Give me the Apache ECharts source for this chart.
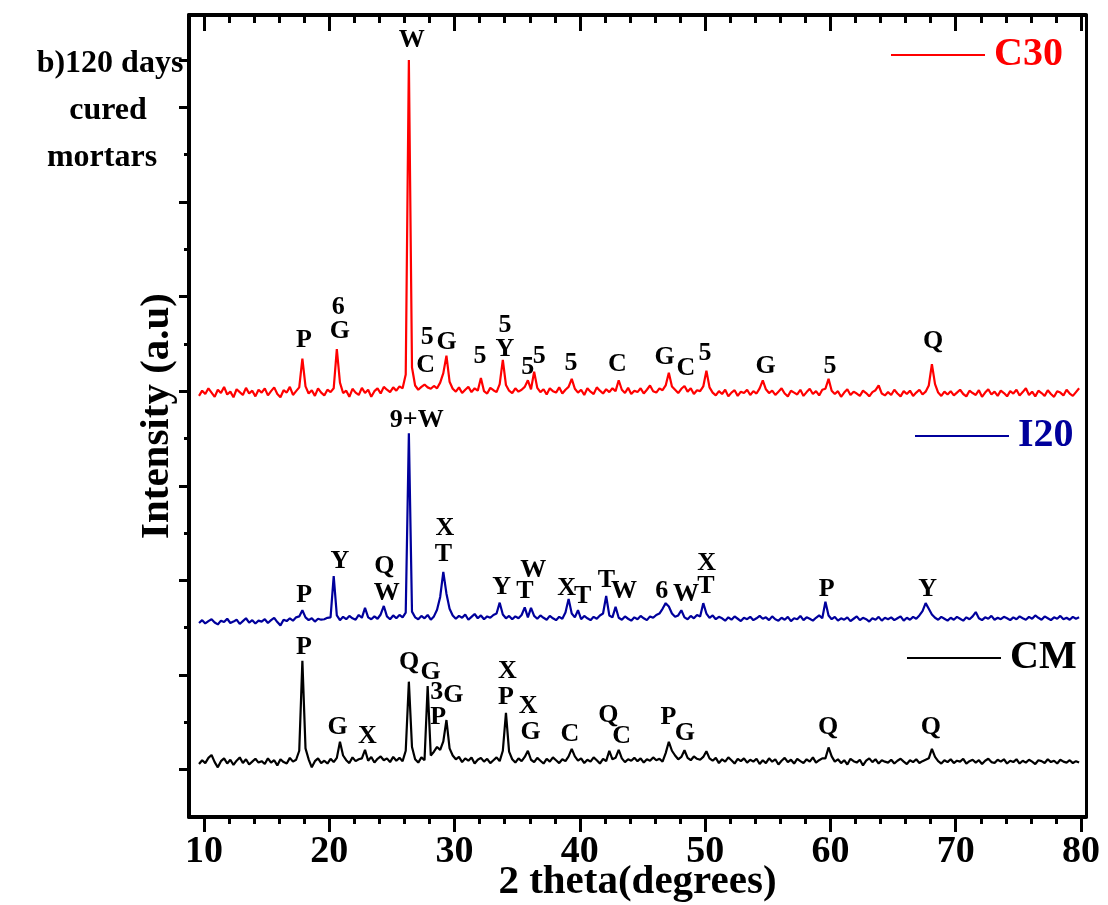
<!DOCTYPE html>
<html><head><meta charset="utf-8">
<script src="https://cdn.jsdelivr.net/npm/echarts@6/dist/echarts.min.js"></script>
<style>html,body{margin:0;padding:0;background:#fff}#c{width:1108px;height:905px}</style>
</head><body><div id="c"></div>
<script>
// 2-theta sampling positions (degrees)
const twoTheta = [
9.6,9.85,10.1,10.35,10.6,10.85,11.1,11.35,11.6,11.85,12.1,12.35,12.6,12.85,13.1,13.35,13.6,13.85,14.1,14.35,
14.6,14.85,15.1,15.35,15.6,15.85,16.1,16.35,16.6,16.85,17.1,17.35,17.6,17.85,18.1,18.35,18.6,18.85,19.1,19.35,
19.6,19.85,20.1,20.35,20.6,20.85,21.1,21.35,21.6,21.85,22.1,22.35,22.6,22.85,23.1,23.35,23.6,23.85,24.1,24.35,
24.6,24.85,25.1,25.35,25.6,25.85,26.1,26.35,26.6,26.85,27.1,27.35,27.6,27.85,28.1,28.35,28.6,28.85,29.1,29.35,
29.6,29.85,30.1,30.35,30.6,30.85,31.1,31.35,31.6,31.85,32.1,32.35,32.6,32.85,33.1,33.35,33.6,33.85,34.1,34.35,
34.6,34.85,35.1,35.35,35.6,35.85,36.1,36.35,36.6,36.85,37.1,37.35,37.6,37.85,38.1,38.35,38.6,38.85,39.1,39.35,
39.6,39.85,40.1,40.35,40.6,40.85,41.1,41.35,41.6,41.85,42.1,42.35,42.6,42.85,43.1,43.35,43.6,43.85,44.1,44.35,
44.6,44.85,45.1,45.35,45.6,45.85,46.1,46.35,46.6,46.85,47.1,47.35,47.6,47.85,48.1,48.35,48.6,48.85,49.1,49.35,
49.6,49.85,50.1,50.35,50.6,50.85,51.1,51.35,51.6,51.85,52.1,52.35,52.6,52.85,53.1,53.35,53.6,53.85,54.1,54.35,
54.6,54.85,55.1,55.35,55.6,55.85,56.1,56.35,56.6,56.85,57.1,57.35,57.6,57.85,58.1,58.35,58.6,58.85,59.1,59.35,
59.6,59.85,60.1,60.35,60.6,60.85,61.1,61.35,61.6,61.85,62.1,62.35,62.6,62.85,63.1,63.35,63.6,63.85,64.1,64.35,
64.6,64.85,65.1,65.35,65.6,65.85,66.1,66.35,66.6,66.85,67.1,67.35,67.6,67.85,68.1,68.35,68.6,68.85,69.1,69.35,
69.6,69.85,70.1,70.35,70.6,70.85,71.1,71.35,71.6,71.85,72.1,72.35,72.6,72.85,73.1,73.35,73.6,73.85,74.1,74.35,
74.6,74.85,75.1,75.35,75.6,75.85,76.1,76.35,76.6,76.85,77.1,77.35,77.6,77.85,78.1,78.35,78.6,78.85,79.1,79.35,
79.6,79.85];

// Stacked intensities (a.u.)
const c30 = [
790,801,794,806,797,788,803,796,809,793,799,787,804,798,792,807,795,801,789,803,
797,806,791,800,808,794,787,802,797,809,792,800,808,869,810,795,802,790,806,797,
791,803,798,806,889,818,796,801,788,805,797,792,807,796,803,788,800,806,795,809,
803,798,808,801,810,806,835,1500,850,812,803,809,814,808,805,811,806,818,838,875,
820,805,799,808,796,803,809,798,806,801,828,800,795,807,802,798,815,866,813,801,
796,806,799,803,809,823,804,841,807,798,804,793,806,800,797,808,795,803,809,826,
805,797,803,792,806,799,794,808,801,795,804,798,806,800,823,803,796,807,794,801,
798,806,795,803,812,800,797,806,802,812,839,810,803,796,805,811,799,806,794,802,
800,810,843,808,797,791,800,794,803,789,797,802,790,799,796,803,792,800,795,806,
823,804,796,801,792,799,806,795,789,801,797,793,803,790,798,805,794,800,791,803,
805,826,801,794,800,788,797,804,792,799,795,790,801,796,789,798,802,812,795,791,
798,792,803,795,789,800,794,801,790,797,803,793,799,812,857,815,797,790,799,793,
800,791,797,803,794,789,801,796,792,802,788,797,804,793,799,790,801,796,789,800,
795,803,791,798,806,792,799,789,801,796,790,802,794,788,800,797,791,803,795,790,
798,806];

const i20 = [
310,316,309,314,318,311,307,315,312,319,310,313,317,308,314,320,311,316,309,315,
313,318,310,316,321,312,305,317,314,320,315,322,324,337,322,316,320,313,319,317,
318,321,322,409,326,316,323,318,325,320,317,327,321,342,322,318,324,319,328,346,
324,318,326,320,327,322,332,711,334,322,318,325,320,327,317,324,338,365,418,372,
340,326,319,325,321,328,317,323,329,320,326,318,324,321,327,330,353,328,320,325,
318,324,320,327,343,322,342,325,319,326,321,317,325,320,316,323,319,332,361,330,
322,337,318,325,320,316,323,319,326,330,367,326,322,344,321,317,324,319,315,322,
318,325,320,316,324,321,327,330,340,352,345,330,323,326,337,322,318,325,320,327,
324,352,330,321,326,318,323,320,315,322,317,324,319,314,321,318,323,316,320,325,
319,322,316,324,318,315,321,317,323,314,320,318,325,316,322,319,315,321,326,320,
355,326,318,323,315,320,317,322,314,319,324,316,321,318,313,320,317,323,315,321,
318,322,316,320,324,315,321,317,323,319,326,335,352,340,328,321,317,323,319,315,
321,317,323,319,315,322,318,324,333,320,316,322,319,325,317,321,318,323,320,316,
322,318,324,320,317,323,319,326,321,317,324,320,316,322,319,325,318,321,317,323,
319,322];

const cm = [
12,20,14,25,31,16,5,18,24,13,21,10,19,26,14,22,11,17,23,15,
18,12,24,15,20,9,22,16,13,25,17,21,40,230,45,22,5,18,24,14,
19,13,23,16,25,59,30,20,14,26,18,22,24,42,19,27,15,23,28,20,
24,16,27,19,25,18,40,186,48,22,15,26,20,177,30,38,48,42,60,105,
45,30,22,27,16,24,19,26,13,21,25,17,23,14,20,26,18,40,120,38,
22,15,24,18,27,40,21,16,25,19,13,23,17,26,20,14,22,18,28,44,
28,19,24,14,21,17,26,20,13,23,18,40,22,25,42,24,16,22,19,25,
18,24,15,22,19,26,20,23,17,35,59,40,30,22,27,41,25,20,28,23,
21,27,39,24,19,25,14,22,17,26,20,13,23,18,24,15,21,17,23,12,
20,14,24,17,22,11,19,25,16,21,13,23,18,14,22,17,26,15,20,24,
24,47,28,17,22,14,20,11,23,18,15,21,9,19,24,16,22,13,20,17,
15,21,13,19,23,17,12,20,16,22,14,18,21,24,44,27,18,13,20,16,
22,14,19,17,23,13,18,21,15,20,12,19,23,16,14,21,17,22,13,19,
16,22,13,19,15,21,17,12,20,18,14,22,16,19,13,21,17,15,20,14,
18,15];

// Phase annotations: [text, 2theta, intensity]
const c30Labels = [['W',26.58,1542],['P',17.98,907],['6',20.72,978],['G',20.85,926],['5',27.82,914],['G',29.37,904],['C',27.69,855],['5',32.03,873],['5',34.02,940],['Y',34.02,888],['5',35.83,850],['5',36.76,874],['5',39.29,859],['C',43.0,856],['G',46.77,871],['C',48.47,848],['5',49.98,880],['G',54.83,852],['5',59.96,853],['Q',68.2,906]];
const i20Labels = [['9+W',26.98,738],['P',18.0,369],['Y',20.85,441],['Q',24.39,429],['W',24.58,373],['X',29.23,510],['T',29.1,456],['Y',33.76,385],['W',36.28,422],['T',35.62,376],['X',38.95,383],['T',40.22,366],['T',42.11,401],['W',43.52,378],['6',46.53,377],['W',48.47,371],['X',50.12,436],['T',50.06,387],['P',59.7,381],['Y',67.76,381]];
const cmLabels = [['P',17.98,259],['G',20.67,90],['X',23.03,70],['Q',26.36,228],['G',28.09,205],['3',28.57,163],['G',29.9,158],['P',28.7,111],['X',34.21,207],['P',34.1,154],['X',35.88,135],['G',36.07,78],['C',39.21,75],['Q',42.27,116],['C',43.34,71],['P',47.06,111],['G',48.39,77],['Q',59.82,90],['Q',68.02,90]];

const xMajorTicks = [10,20,30,40,50,60,70,80];
const xMinorTicks = [12,14,16,18,22,24,26,28,32,34,36,38,42,44,46,48,52,54,56,58,62,64,66,68,72,74,76,78];
const yMajorTicks = [0,200,400,600,800,1000,1200,1400,1500];
const yMinorTicks = [100,300,500,700,900,1100,1300];
const titleLines = ['b)120 days','cured','mortars'];

const FONT = '"Liberation Serif","Times New Roman",serif';
const X_MIN = 8.8, X_MAX = 80.4, Y_MIN = -100, Y_MAX = 1595;
const colors = {C30:'#ff0000', I20:'#00009c', CM:'#000000'};

const chart = echarts.init(document.getElementById('c'), null, {renderer:'canvas', width:1108, height:905});

function pairs(ys){ return twoTheta.map((x,i)=>[x, ys[i]]); }
function labelData(arr){ return arr.map(a=>({name:a[0], value:[a[1],a[2]]})); }

const blankAxis = {axisLabel:{show:false}, splitLine:{show:false}};

const xAxes = [
  {type:'value', min:X_MIN, max:X_MAX, position:'bottom', offset:0,
   axisLine:{show:true, onZero:false, lineStyle:{color:'#000', width:4}},
   axisTick:{show:true, customValues:xMajorTicks, length:15, lineStyle:{color:'#000', width:3}},
   axisLabel:{show:true, customValues:xMajorTicks, margin:16, color:'#000', fontSize:38, fontWeight:'bold', fontFamily:FONT},
   splitLine:{show:false},
   name:'2 theta(degrees)', nameLocation:'middle', nameGap:45, nameMoveOverlap:false,
   nameTextStyle:{color:'#000', fontSize:41, fontWeight:'bold', fontFamily:FONT}},
  Object.assign({type:'value', min:X_MIN, max:X_MAX, position:'bottom', offset:0,
   axisLine:{show:false, onZero:false},
   axisTick:{show:true, customValues:xMinorTicks, length:7, lineStyle:{color:'#000', width:3}}}, blankAxis),
  Object.assign({type:'value', min:X_MIN, max:X_MAX, position:'top', offset:0,
   axisLine:{show:true, onZero:false, lineStyle:{color:'#000', width:4}},
   axisTick:{show:true, inside:true, customValues:xMajorTicks, length:16, lineStyle:{color:'#000', width:3}}}, blankAxis),
  Object.assign({type:'value', min:X_MIN, max:X_MAX, position:'top', offset:0,
   axisLine:{show:false, onZero:false},
   axisTick:{show:true, inside:true, customValues:xMinorTicks, length:8, lineStyle:{color:'#000', width:3}}}, blankAxis)
];

const yAxes = [
  {type:'value', min:Y_MIN, max:Y_MAX, position:'left', offset:0,
   axisLine:{show:true, onZero:false, lineStyle:{color:'#000', width:4}},
   axisTick:{show:true, customValues:yMajorTicks, length:10, lineStyle:{color:'#000', width:3}},
   axisLabel:{show:false}, splitLine:{show:false},
   name:'Intensity (a.u)', nameLocation:'middle', nameGap:11, nameMoveOverlap:false,
   nameTextStyle:{color:'#000', fontSize:41, fontWeight:'bold', fontFamily:FONT}},
  Object.assign({type:'value', min:Y_MIN, max:Y_MAX, position:'left', offset:0,
   axisLine:{show:false, onZero:false},
   axisTick:{show:true, customValues:yMinorTicks, length:5, lineStyle:{color:'#000', width:3}}}, blankAxis),
  Object.assign({type:'value', min:Y_MIN, max:Y_MAX, position:'right', offset:0,
   axisLine:{show:true, onZero:false, lineStyle:{color:'#000', width:3}},
   axisTick:{show:false}}, blankAxis)
];

function lineSeries(name, ys){
  return {name:name, type:'line', data:pairs(ys), xAxisIndex:0, yAxisIndex:0,
    showSymbol:false, symbol:'none', animation:false,
    lineStyle:{color:colors[name], width:2.2}, itemStyle:{color:colors[name]},
    emphasis:{disabled:true}};
}
function labelSeries(arr){
  return {type:'scatter', data:labelData(arr), xAxisIndex:0, yAxisIndex:0,
    symbol:'circle', symbolSize:2, itemStyle:{color:'rgba(0,0,0,0)', opacity:1}, silent:true, animation:false, z:10,
    label:{show:true, position:'inside', formatter:'{b}', color:'#000', opacity:1,
      textBorderWidth:0, fontSize:26, fontWeight:'bold', fontFamily:FONT},
    emphasis:{disabled:true}};
}
function legendFor(name, left, top){
  return {data:[name], left:left, top:top, padding:0, itemGap:0, icon:'rect',
    itemWidth:94, itemHeight:2, selectedMode:false,
    textStyle:{color:colors[name], fontSize:40, fontWeight:'bold', fontFamily:FONT, padding:[0,0,0,4]}};
}

const titleY = [64,111,158], titleX = [110,108,102];

chart.setOption({
  animation:false,
  backgroundColor:'#fff',
  grid:{left:189, right:22, top:15, bottom:88, containLabel:false, outerBoundsMode:'none'},
  xAxis:xAxes,
  yAxis:yAxes,
  legend:[legendFor('C30',891,35), legendFor('I20',915,416), legendFor('CM',907,638)],
  graphic:titleLines.map((t,i)=>({type:'text', x:titleX[i], y:titleY[i], silent:true,
    style:{text:t, fill:'#000', font:'bold 32px '+FONT, align:'center', verticalAlign:'middle'}})),
  series:[
    lineSeries('CM', cm),
    lineSeries('I20', i20),
    lineSeries('C30', c30),
    labelSeries(c30Labels),
    labelSeries(i20Labels),
    labelSeries(cmLabels)
  ]
});
</script>
</body></html>
